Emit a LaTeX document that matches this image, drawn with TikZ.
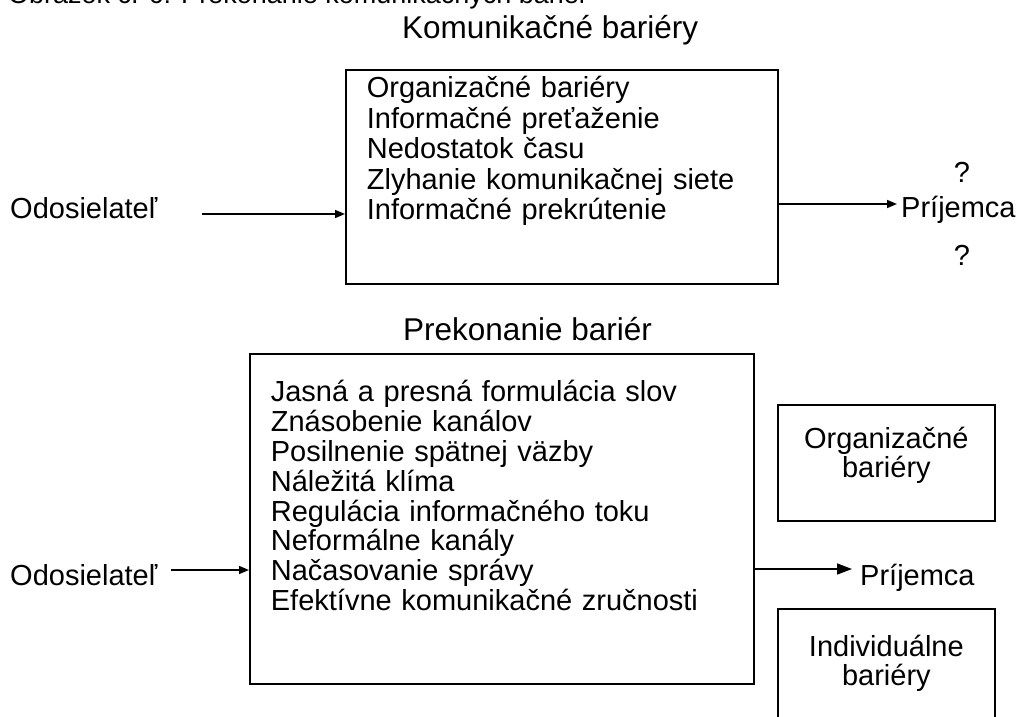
\documentclass[tikz,border=0pt]{standalone}
\usepackage{fontspec}
\setmainfont{Liberation Sans}
\usetikzlibrary{arrows.meta}

\newcommand{\capfont}{\fontsize{27}{30}\selectfont}
\newcommand{\headfont}{\fontsize{31.5}{36}\selectfont}

\begin{document}
\begin{tikzpicture}[x=1pt, y=-1pt,
    lbl/.style={inner sep=0pt, font=\fontsize{29}{30.5}\selectfont},
    head/.style={inner sep=0pt, anchor=base west, font=\headfont},
    box/.style={draw, rectangle, line width=1.7pt, anchor=north west,
                inner ysep=0pt, align=left},
    sidebox/.style={box, inner xsep=0pt, text width=217pt, align=center,
                font=\fontsize{29}{29}\selectfont},
    arrow/.style={-{Triangle[length=10pt,width=8pt]}, line width=1.6pt}
]
    \useasboundingbox (0,0) rectangle (1017,717);

    % caption, cut at the top of the page
    \node[inner sep=0pt, anchor=base west, font=\capfont] (caption) at (8,4)
        {Obrázok č. 6: Prekonanie komunikačných bariér};

    % upper part
    \node[head] (title1) at (402,39) {Komunikačné bariéry};
    \node[box, inner xsep=21pt, text width=390pt, text height=28pt,
          text depth=186pt, font=\fontsize{29}{30.5}\selectfont]
          (barriers) at (345,69) {Organizačné bariéry\\
                                  Informačné preťaženie\\
                                  Nedostatok času\\
                                  Zlyhanie komunikačnej siete\\
                                  Informačné prekrútenie};

    \node[lbl, anchor=base west] (sender1) at (10,218) {Odosielateľ};
    \node[lbl, anchor=base west] (receiver1) at (901,217) {Príjemca};
    \node[lbl, anchor=base] (ask1) at (962,182) {?};
    \node[lbl, anchor=base] (ask2) at (962,265) {?};

    \coordinate (s1) at ([yshift=4pt]sender1.base east);
    \coordinate (r1) at ([yshift=13pt,xshift=-4pt]receiver1.base west);
    \draw[arrow, shorten <=45pt] (s1) -- (s1 -| barriers.west);
    \draw[arrow] (r1 -| barriers.east) -- (r1);

    % lower part
    \node[head] (title2) at (403,340) {Prekonanie bariér};
    \node[box, inner xsep=21pt, text width=462pt, text height=48pt,
          text depth=282pt, font=\fontsize{29}{29.8}\selectfont]
          (overcome) at (249,353) {Jasná a presná formulácia slov\\
                                   Znásobenie kanálov\\
                                   Posilnenie spätnej väzby\\
                                   Náležitá klíma\\
                                   Regulácia informačného toku\\
                                   Neformálne kanály\\
                                   Načasovanie správy\\
                                   Efektívne komunikačné zručnosti};

    \node[sidebox, text height=44pt, text depth=72pt] (orgbar) at (777,404)
        {Organizačné\\bariéry};
    \node[sidebox, text height=48pt, text depth=130pt] (indbar) at (777,608)
        {Individuálne\\bariéry};

    \node[lbl, anchor=base west] (sender2) at (10,585) {Odosielateľ};
    \node[lbl, anchor=base west] (receiver2) at (860,585) {Príjemca};

    \coordinate (s2) at ([yshift=15pt]sender2.base east);
    \coordinate (r2) at ([yshift=16pt,xshift=-8pt]receiver2.base west);
    \draw[arrow, shorten <=14pt] (s2) -- (s2 -| overcome.west);
    \draw[arrow, -{Triangle[length=15pt,width=11pt]}] (r2 -| overcome.east) -- (r2);
\end{tikzpicture}
\end{document}
